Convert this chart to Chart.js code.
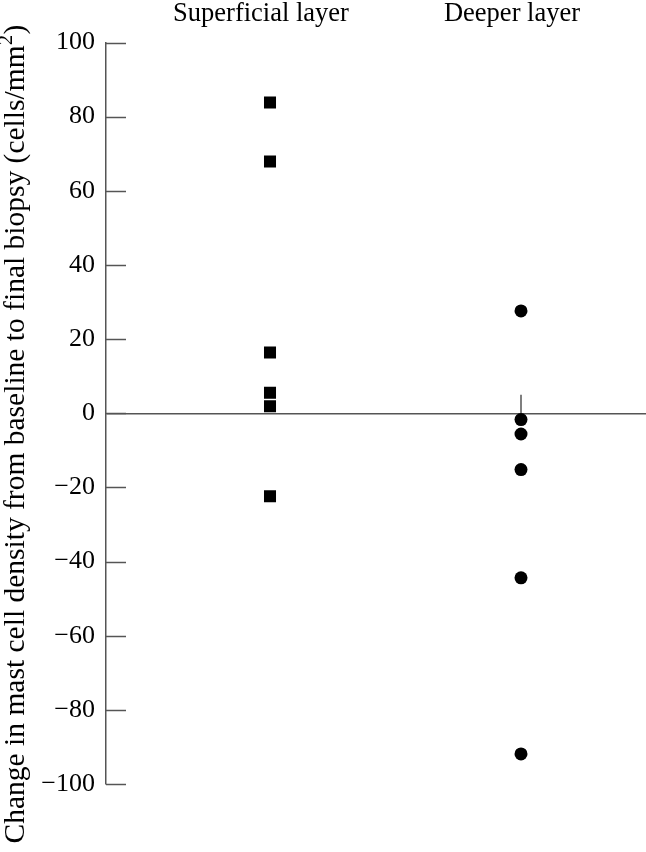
<!DOCTYPE html>
<html><head><meta charset="utf-8">
<script src="https://cdn.jsdelivr.net/npm/chart.js@4/dist/chart.umd.min.js"></script>
<style>html,body{margin:0;padding:0;background:#fff;}#wrap{width:646px;height:852px;}</style>
</head><body><div id="wrap"><canvas id="c" width="646" height="852"></canvas></div>
<script>
const categories = ['Superficial layer', 'Deeper layer'];
const superficial = [83.8, 67.9, 16.4, 5.5, 1.9, -22.4];
const deeper = [27.6, -1.7, -5.6, -15.2, -44.4, -91.9];
const deeperMarker = [0, 5];
const yTicks = [100, 80, 60, 40, 20, 0, -20, -40, -60, -80, -100];
const yTitleMain = 'Change in mast cell density from baseline to final biopsy (cells/mm';
const yTitleSup = '2';
const yTitleEnd = ')';

const FONT = '"Liberation Serif", "Times New Roman", serif';
const LINE = '#555';

const inwardTicks = {
  id: 'inwardTicks',
  afterDatasetsDraw(chart) {
    const y = chart.scales.y, ctx = chart.ctx;
    ctx.save();
    ctx.strokeStyle = LINE; ctx.lineWidth = 1.5;
    y.ticks.forEach(t => {
      const py = Math.round(y.getPixelForValue(t.value)) + 0.5;
      ctx.beginPath(); ctx.moveTo(y.right, py); ctx.lineTo(y.right + 20, py); ctx.stroke();
    });
    ctx.restore();
  }
};

const yTitlePlugin = {
  id: 'yTitlePlugin',
  afterDraw(chart) {
    const ctx = chart.ctx;
    const main = '29.5px ' + FONT, sup = '20px ' + FONT;
    ctx.save();
    ctx.font = main; const w1 = ctx.measureText(yTitleMain).width; const w3 = ctx.measureText(yTitleEnd).width;
    ctx.font = sup; const w2 = ctx.measureText(yTitleSup).width + 1;
    const total = w1 + w2 + w3;
    const cy = 434;
    ctx.translate(24, cy + total / 2);
    ctx.rotate(-Math.PI / 2);
    ctx.fillStyle = '#000';
    ctx.textBaseline = 'alphabetic'; ctx.textAlign = 'left';
    ctx.font = main; ctx.fillText(yTitleMain, 0, 0);
    ctx.font = sup; ctx.fillText(yTitleSup, w1 + 0.5, -12);
    ctx.font = main; ctx.fillText(yTitleEnd, w1 + w2, 0);
    ctx.restore();
  }
};

new Chart(document.getElementById('c'), {
  type: 'scatter',
  data: {
    datasets: [
      { data: superficial.map(v => ({x: 1, y: v})), pointStyle: 'rect', pointRadius: 8.5,
        backgroundColor: '#000', borderColor: '#000', borderWidth: 0, order: 1 },
      { data: deeper.map(v => ({x: 2, y: v})), pointStyle: 'circle', pointRadius: 6.5,
        backgroundColor: '#000', borderColor: '#000', borderWidth: 0, order: 1 },
      { type: 'line', data: deeperMarker.map(v => ({x: 2, y: v})), borderColor: LINE, borderWidth: 1.5,
        pointRadius: 0, showLine: true, order: 2 }
    ]
  },
  options: {
    responsive: false, animation: false,
    layout: { autoPadding: false, padding: { top: 0, bottom: 68, left: 0, right: 0 } },
    plugins: { legend: { display: false }, tooltip: { enabled: false } },
    scales: {
      x: {
        type: 'linear', position: 'top', min: 0.3466, max: 2.498,
        afterBuildTicks: s => { s.ticks = [{value: 1}, {value: 2}]; },
        afterFit: s => { s.height = 42.5; s.paddingLeft = 0; s.paddingRight = 0; },
        ticks: { callback: v => categories[v - 1], color: '#000', font: { family: FONT, size: 26.5 }, padding: 13, labelOffset: -9, maxRotation: 0, autoSkip: false },
        grid: { display: false, drawTicks: false },
        border: { display: false }
      },
      y: {
        min: -100, max: 100,
        afterBuildTicks: s => { s.ticks = yTicks.map(v => ({value: v})); },
        afterFit: s => { s.width = 106; s.paddingTop = 0; s.paddingBottom = 0; },
        ticks: { callback: v => String(v).replace('-', '\u2212'), color: '#000', font: { family: FONT, size: 26 }, padding: 11 },
        grid: { drawTicks: false, lineWidth: 1.5, color: c => (c.tick && c.tick.value === 0) ? LINE : 'rgba(0,0,0,0)' },
        border: { display: true, color: LINE, width: 1.5 },
        title: { display: false }
      }
    }
  },
  plugins: [inwardTicks, yTitlePlugin]
});
</script></body></html>
